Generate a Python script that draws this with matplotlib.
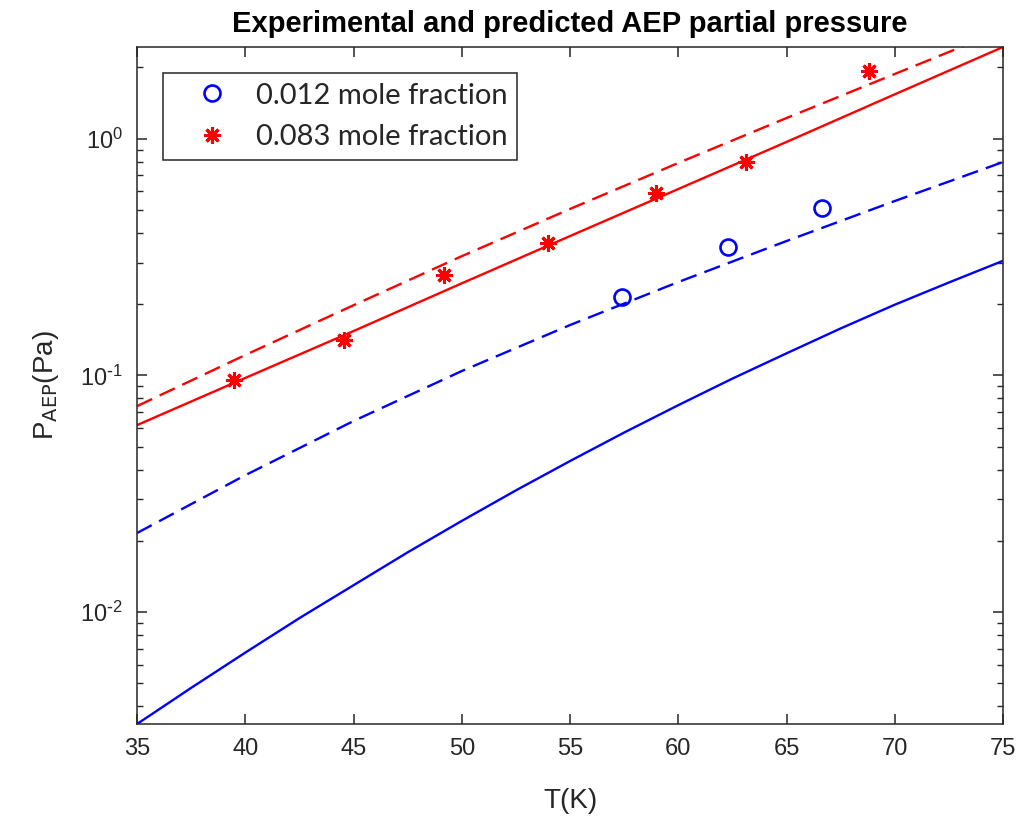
import matplotlib
matplotlib.use("Agg")
import matplotlib.pyplot as plt
from matplotlib.ticker import FuncFormatter
import numpy as np

# experimental points
T_low = [57.4, 62.3, 66.65]
P_low = [0.215, 0.348, 0.511]
T_high = [39.5, 44.55, 49.2, 54.0, 58.95, 63.15, 68.8]
P_high = [0.096, 0.141, 0.265, 0.362, 0.588, 0.80, 1.93]

# predicted curves
T_pred = [35, 40, 45, 50, 55, 60, 65, 70, 75]
P_low_dashed = [0.0216, 0.0379, 0.0642, 0.1044, 0.1633, 0.2481, 0.3697, 0.5455, 0.797]
P_high_solid = [0.0617, 0.0976, 0.154, 0.245, 0.388, 0.613, 0.969, 1.54, 2.44]
P_high_dashed = [0.0742, 0.122, 0.198, 0.319, 0.505, 0.790, 1.223, 1.877, 2.879]

# the lower solid curve bends, so it was read at 2.5 K steps
T_low_solid = [35, 37.5, 40, 42.5, 45, 47.5, 50, 52.5, 55, 57.5,
               60, 62.5, 65, 67.5, 70, 72.5, 75]
P_low_solid = [0.00337, 0.00479, 0.00675, 0.00944, 0.0130, 0.0179, 0.0243,
               0.0327, 0.0435, 0.0574, 0.0749, 0.0970, 0.124, 0.158,
               0.199, 0.247, 0.305]

gray = "#262626"
plt.rcParams["font.family"] = ["Liberation Sans", "DejaVu Sans"]
plt.rcParams["lines.scale_dashes"] = False

fig = plt.figure(figsize=(10.21, 8.16), dpi=100)
ax = fig.add_axes([0.1342, 0.1127, 0.8482, 0.8297])

dash = (0, (12, 6))
ax.plot(T_low_solid, P_low_solid, color="blue", lw=1.7)
ax.plot(T_pred, P_low_dashed, color="blue", lw=1.7, linestyle=dash)
ax.plot(T_pred, P_high_solid, color="red", lw=1.7)
ax.plot(T_pred, P_high_dashed, color="red", lw=1.7, linestyle=dash)

ax.plot(T_low, P_low, linestyle="none", marker="o", markersize=11.5,
        markerfacecolor="none", markeredgecolor="blue", markeredgewidth=1.9,
        label="0.012 mole fraction")
ax.plot(T_high, P_high, linestyle="none", marker=(8, 2, 0), markersize=12,
        color="red", markeredgewidth=2.2, label="0.083 mole fraction")

ax.set_yscale("log")
ax.set_xlim(35, 75)
ax.set_ylim(0.00337, 2.44)
ax.set_xticks(range(35, 80, 5))


def decade(v, pos):
    n = int(round(np.log10(v)))
    if n < 0:
        return r"$\mathdefault{10^{\text{-}%d}}$" % (-n)
    return r"$\mathdefault{10^{%d}}$" % n


ax.yaxis.set_major_formatter(FuncFormatter(decade))

for s in ax.spines.values():
    s.set_color(gray)
    s.set_linewidth(1.1)
ax.tick_params(which="both", direction="in", top=True, right=True,
               colors=gray, labelsize=17)
ax.tick_params(which="major", length=7, width=1.1, pad=10)
ax.tick_params(which="minor", length=4, width=1.0)

ax.set_xlabel("T(K)", fontsize=20, color=gray, labelpad=20)
ax.set_ylabel(r"P$_{\mathrm{AEP}}$(Pa)", fontsize=20, color=gray, labelpad=14)
ax.set_title("Experimental and predicted AEP partial pressure",
             fontsize=21, fontweight="bold", color="black", pad=11)

leg = ax.legend(loc="upper left", bbox_to_anchor=(0.03, 0.9616), borderaxespad=0,
                fancybox=False, edgecolor=gray, framealpha=1,
                handlelength=2.67, handletextpad=0.19, borderpad=0.33,
                labelspacing=0.53, prop={"family": "Lato", "size": 21})
leg.get_frame().set_linewidth(1.1)
for t in leg.get_texts():
    t.set_color(gray)

fig.savefig("out.png", dpi=100)
